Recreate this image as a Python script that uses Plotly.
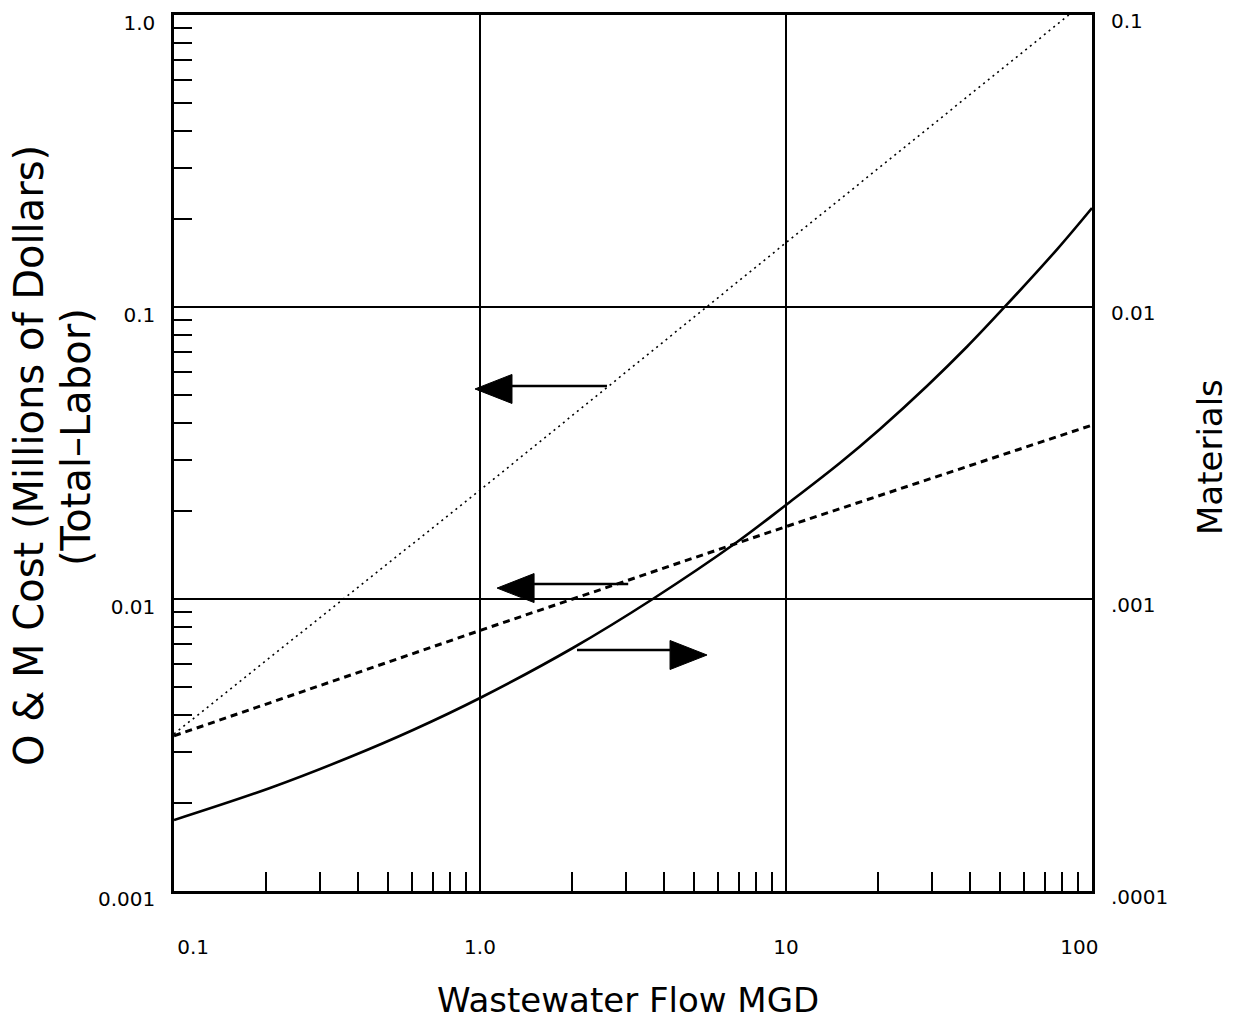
import math
import plotly.graph_objects as go

# ---------------- data ----------------
flow_total = [0.1, 1.0, 10.0, 84.0]
cost_total = [0.00345, 0.0236, 0.166, 1.0]

flow_labor = [0.1, 1.0, 10.0, 100.0]
cost_labor = [0.0034, 0.0078, 0.0177, 0.0394]

flow_materials = [0.1, 0.206, 0.376, 0.604, 1.0, 2.01, 3.67, 6.92, 10.0,
                  15.0, 20.3, 28.9, 39.1, 52.0, 76.9, 100.0]
cost_materials = [1.750e-4, 2.253e-4, 2.876e-4, 3.559e-4, 4.581e-4, 6.795e-4,
                  1.0e-3, 1.567e-3, 2.099e-3, 2.922e-3, 3.823e-3, 5.364e-3,
                  7.322e-3, 1.004e-2, 1.576e-2, 2.183e-2]

x_tickvals = [0.1, 1, 10, 100]
x_ticktext = ["\u00a0" * 6 + "0.1", "1.0", "10", "100" + "\u00a0" * 4]
yl_tickvals = [0.001, 0.01, 0.1, 1]
yl_ticktext = ["0.001", "0.01", "0.1", "1.0"]
yr_tickvals = [0.0001, 0.001, 0.01, 0.1]
yr_ticktext = [".0001", ".001", "0.01", "0.1"]

# arrows: (tail flow, tail cost, tip flow, tip cost) in left-axis units
arrows = [
    (2.60, 0.0536, 0.963, 0.0524),
    (3.05, 0.01125, 1.137, 0.0109),
    (2.075, 0.00669, 5.52, 0.00643),
]

# ---------------- geometry / style ----------------
W, H = 1240, 1023
ML, MR, MT, MB = 174, 148, 15, 132
PW, PH = W - ML - MR, H - MT - MB
X_RANGE = [-1, 2]
YL_RANGE = [-3, 0]
YR_RANGE = [-4, -1]
FONT = "DejaVu Sans"
INK = "black"


def minor_vals(lo, hi):
    return [m * 10 ** e for e in range(lo, hi) for m in range(2, 10)]


def to_px(x):
    return (math.log10(x) - X_RANGE[0]) / (X_RANGE[1] - X_RANGE[0])


def to_py(y):
    return (math.log10(y) - YL_RANGE[0]) / (YL_RANGE[1] - YL_RANGE[0])


fig = go.Figure()

fig.add_trace(go.Scatter(
    x=flow_total, y=cost_total, mode="lines", name="Total",
    line=dict(color=INK, width=1.6, dash="2px,4px"), yaxis="y"))
fig.add_trace(go.Scatter(
    x=flow_labor, y=cost_labor, mode="lines", name="Labor",
    line=dict(color=INK, width=3, dash="7px,5px"), yaxis="y"))
fig.add_trace(go.Scatter(
    x=flow_materials, y=cost_materials, mode="lines", name="Materials",
    line=dict(color=INK, width=2.6, shape="spline", smoothing=1.0), yaxis="y2"))

shapes = []
HEAD_L, HEAD_HW = 37, 14.5
for tx_, ty_, hx_, hy_ in arrows:
    sx, sy = to_px(tx_), to_py(ty_)
    hx, hy = to_px(hx_), to_py(hy_)
    d = 1 if hx > sx else -1
    bx = hx - d * HEAD_L / PW
    hw = HEAD_HW / PH
    shapes.append(dict(type="line", xref="paper", yref="paper",
                       x0=sx, y0=sy, x1=bx, y1=sy,
                       line=dict(color=INK, width=2.5)))
    shapes.append(dict(type="path", xref="paper", yref="paper",
                       path=f"M {hx} {hy} L {bx} {hy + hw} L {bx} {hy - hw} Z",
                       fillcolor=INK, line=dict(color=INK, width=1)))

annotations = [
    dict(text="O & M Cost (Millions of Dollars)", xref="paper", yref="paper",
         x=(29 - ML) / PW, y=(MT + PH - 456) / PH, textangle=-90,
         xanchor="center", yanchor="middle", showarrow=False,
         font=dict(family=FONT, size=40, color=INK)),
    dict(text="(Total\u2013Labor)", xref="paper", yref="paper",
         x=(76 - ML) / PW, y=(MT + PH - 437) / PH, textangle=-90,
         xanchor="center", yanchor="middle", showarrow=False,
         font=dict(family=FONT, size=40, color=INK)),
    dict(text="Materials", xref="paper", yref="paper",
         x=(1210 - ML) / PW, y=(MT + PH - 457) / PH, textangle=-90,
         xanchor="center", yanchor="middle", showarrow=False,
         font=dict(family=FONT, size=34, color=INK)),
    dict(text="Wastewater Flow MGD", xref="paper", yref="paper",
         x=(628 - ML) / PW, y=(MT + PH - 1000) / PH,
         xanchor="center", yanchor="middle", showarrow=False,
         font=dict(family=FONT, size=34, color=INK)),
]

axis_common = dict(
    type="log", showgrid=True, gridcolor=INK, gridwidth=2,
    showline=True, linecolor=INK, linewidth=2.5, mirror=True,
    ticks="", zeroline=False, automargin=False,
    tickfont=dict(family=FONT, size=20, color=INK),
)

fig.update_layout(
    width=W, height=H,
    margin=dict(l=ML, r=MR, t=MT, b=MB, pad=0, autoexpand=False),
    paper_bgcolor="white", plot_bgcolor="white",
    showlegend=False,
    font=dict(family=FONT, color=INK),
    xaxis=dict(**axis_common, range=X_RANGE,
               tickmode="array", tickvals=x_tickvals, ticktext=x_ticktext,
               ticklabelstandoff=36,
               minor=dict(tickmode="array", tickvals=minor_vals(-1, 2),
                          ticks="inside", ticklen=19, tickwidth=1.5,
                          tickcolor=INK, showgrid=False)),
    yaxis=dict(**axis_common, range=YL_RANGE,
               tickmode="array", tickvals=yl_tickvals, ticktext=yl_ticktext,
               ticklabelstandoff=12, ticklabelshift=8,
               minor=dict(tickmode="array", tickvals=minor_vals(-3, 0),
                          ticks="inside", ticklen=18, tickwidth=1.5,
                          tickcolor=INK, showgrid=False)),
    yaxis2=dict(type="log", range=YR_RANGE, overlaying="y", side="right",
                anchor="x", showgrid=False, showline=False, ticks="",
                zeroline=False, automargin=False,
                tickmode="array", tickvals=yr_tickvals, ticktext=yr_ticktext,
                ticklabelstandoff=18, ticklabelshift=6,
                tickfont=dict(family=FONT, size=20, color=INK)),
    shapes=shapes,
    annotations=annotations,
)

fig.write_html("out.html", config={"displayModeBar": False},
               post_script="document.body.style.margin='0';")
